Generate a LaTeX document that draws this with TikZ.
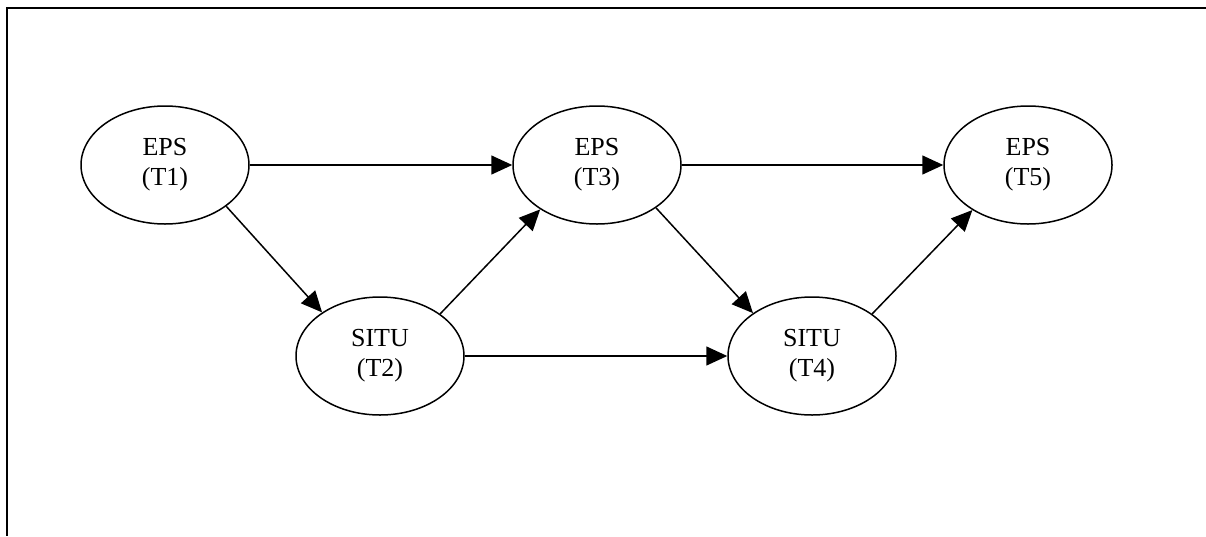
\documentclass[tikz,border=0pt]{standalone}
\usepackage{fontspec}
\setmainfont{Liberation Serif}
\usetikzlibrary{arrows.meta,shapes.geometric}
\begin{document}
\begin{tikzpicture}[x=1pt,y=-1pt,
  st/.style={draw,ellipse,line width=1.5pt,minimum width=168pt,minimum height=118pt,inner sep=0pt,align=center,font=\fontsize{26}{30}\selectfont},
  conn/.style={line width=1.5pt,-{Triangle[length=21pt,width=19pt]}}]
\useasboundingbox (0,0) rectangle (1206,536);
\coordinate (tl) at (7,8);
\coordinate (tr) at (1206,8);
\coordinate (bl) at (7,536);
\draw[line width=2pt] (tr) -- (tl) -- (bl);
\node[st] (t1) at (165,165) {EPS\\(T1)};
\node[st] (t3) at (597,165) {EPS\\(T3)};
\node[st] (t5) at (1028,165) {EPS\\(T5)};
\node[st] (t2) at (380,356) {SITU\\(T2)};
\node[st] (t4) at (812,356) {SITU\\(T4)};
\draw[conn] (t1) -- (t3);
\draw[conn] (t3) -- (t5);
\draw[conn] (t2) -- (t4);
\draw[conn] (t1.-34) -- (t2.143);
\draw[conn] (t2.35) -- (t3.218);
\draw[conn] (t3.-36) -- (t4.144);
\draw[conn] (t4.35) -- (t5.219);
\end{tikzpicture}
\end{document}
